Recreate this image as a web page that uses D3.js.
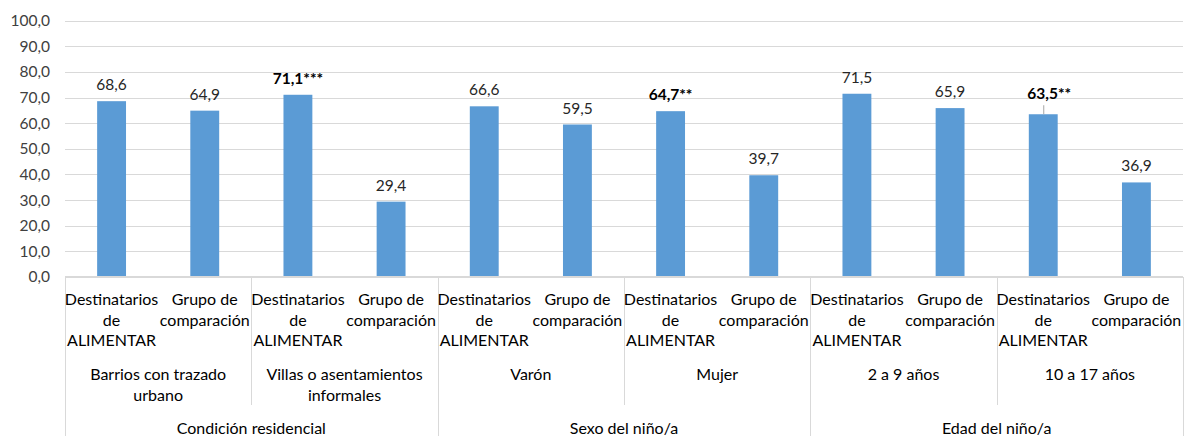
<!DOCTYPE html>
<meta charset="utf-8">
<style>
    body { margin: 0; background: #fff; }
    svg { font-family: Lato, "Open Sans", sans-serif; }
    .grid line { stroke: #d9d9d9; }
    .tick text { fill: #404040; font-size: 15.5px; }
    .cat { fill: #000; font-size: 16px; text-anchor: middle; }
    .lbl { fill: #262626; font-size: 15.5px; text-anchor: middle; }
    .sep { stroke: #d9d9d9; }
</style>

<svg width="1186" height="436"></svg>

<script src="https://d3js.org/d3.v7.min.js"></script>

<script>
// bar values, one per sub-category
var values = [68.6, 64.9, 71.1, 29.4, 66.6, 59.5, 64.7, 39.7, 71.5, 65.9, 63.5, 36.9];
// significance marks appended to labels
var stars = ["", "", "***", "", "", "", "**", "", "", "", "**", ""];
var groups = [["Destinatarios", "de", "ALIMENTAR"], ["Grupo de", "comparación"]];
var subgroups = [["Barrios con trazado", "urbano"], ["Villas o asentamientos", "informales"],
                 ["Varón"], ["Mujer"], ["2 a 9 años"], ["10 a 17 años"]];
var supergroups = ["Condición residencial", "Sexo del niño/a", "Edad del niño/a"];
var yTicks = d3.range(0, 101, 10);

var svg = d3.select("svg");
var plotLeft = 65, plotRight = 1183, plotTop = 20.7, plotBottom = 277;

var x = d3.scaleBand()
    .domain(d3.range(values.length))
    .range([plotLeft, plotRight])
    .paddingInner(0.69)
    .paddingOuter(0.345);
var step = (plotRight - plotLeft) / values.length;

var y = d3.scaleLinear().domain([0, 100]).range([plotBottom, plotTop]);

// gridlines
svg.append('g')
    .attr('class', 'grid')
    .selectAll('line')
    .data(yTicks)
    .enter()
    .append('line')
    .attr('x1', plotLeft)
    .attr('x2', plotRight)
    .attr('y1', function(d) { return Math.round(y(d)) + 0.5; })
    .attr('y2', function(d) { return Math.round(y(d)) + 0.5; });

// y axis
var yAxis = svg.append('g')
    .attr('transform', 'translate(' + plotLeft + ',0)')
    .call(d3.axisLeft(y).tickValues(yTicks).tickSize(0).tickPadding(15)
        .tickFormat(function(d) { return d3.format(".1f")(d).replace('.', ','); }));
yAxis.select('.domain').remove();
yAxis.attr('font-family', null).attr('font-size', null);

// bars
svg.append('g')
    .selectAll('rect')
    .data(values)
    .enter()
    .append('rect')
    .attr('x', function(d, i) { return x(i); })
    .attr('width', x.bandwidth())
    .attr('y', function(d) { return y(d); })
    .attr('height', function(d) { return y(0) - y(d); })
    .attr('fill', '#5b9bd5');

// data labels (the last starred one was dragged up a bit, with a leader line)
var lift = function(i) { return i === 10 ? 15 : 11; };
svg.append('line')
    .attr('x1', x(10) + x.bandwidth() / 2 + 0.5)
    .attr('x2', x(10) + x.bandwidth() / 2 + 0.5)
    .attr('y1', y(values[10]))
    .attr('y2', y(values[10]) - 9)
    .attr('stroke', '#a6a6a6');
svg.append('g')
    .selectAll('text')
    .data(values)
    .enter()
    .append('text')
    .attr('class', 'lbl')
    .attr('x', function(d, i) { return x(i) + x.bandwidth() / 2 + (i === 10 ? 6 : 0); })
    .attr('y', function(d, i) { return y(d) - lift(i); })
    .style('font-weight', function(d, i) { return stars[i] ? 'bold' : null; })
    .style('fill', function(d, i) { return stars[i] ? '#000' : null; })
    .text(function(d, i) { return d3.format(".1f")(d).replace('.', ',') + stars[i]; });

// category axis: base line and separators
svg.append('line').attr('class', 'sep')
    .attr('x1', plotLeft).attr('x2', plotRight).attr('y1', plotBottom - 0.5).attr('y2', plotBottom - 0.5);
d3.range(subgroups.length + 1).forEach(function(k) {
    var xx = Math.round(plotLeft + k * 2 * step) + 0.5;
    svg.append('line').attr('class', 'sep')
        .attr('x1', xx).attr('x2', xx)
        .attr('y1', plotBottom)
        .attr('y2', k % 2 === 0 ? 436 : 405);
});

// level 1: bar names
values.forEach(function(d, i) {
    var cx = plotLeft + (i + 0.5) * step;
    groups[i % 2].forEach(function(t, j) {
        svg.append('text').attr('class', 'cat')
            .attr('x', cx).attr('y', 305 + j * 20.5).text(t);
    });
});

// level 2: subgroups
subgroups.forEach(function(lines, k) {
    var cx = plotLeft + (k + 0.5) * 2 * step;
    lines.forEach(function(t, j) {
        svg.append('text').attr('class', 'cat')
            .attr('x', cx).attr('y', 380 + j * 21).text(t);
    });
});

// level 3: supergroups
supergroups.forEach(function(t, k) {
    svg.append('text').attr('class', 'cat')
        .attr('x', plotLeft + (k + 0.5) * 4 * step)
        .attr('y', 434)
        .text(t);
});
</script>
